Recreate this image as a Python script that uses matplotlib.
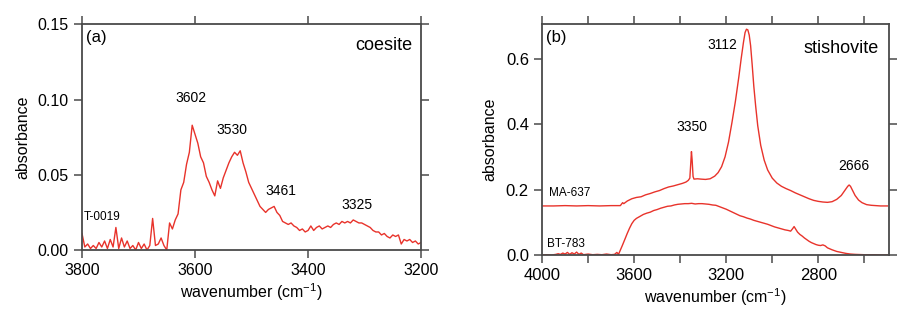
import matplotlib
matplotlib.use("Agg")
import matplotlib.pyplot as plt
import numpy as np
from matplotlib.ticker import MultipleLocator

plt.rcParams["font.family"] = ["Liberation Sans", "DejaVu Sans"]
plt.rcParams["mathtext.fontset"] = "custom"
plt.rcParams["mathtext.rm"] = "Liberation Sans"
plt.rcParams["mathtext.default"] = "regular"

RED = "#e8332b"
FRAME = "#4a4a4a"

# ---- panel (a): coesite, T-0019 (5 cm-1 steps, 3800 -> 3200)
abs_a = [
    0.011, 0.002, 0.004, 0.001, 0.003, 0.001, 0.005, 0.002, 0.006, 0.001,
    0.007, 0.002, 0.015, 0.001, 0.008, 0.002, 0.006, 0.001, 0.003, 0.000,
    0.005, 0.001, 0.004, 0.000, 0.003, 0.021, 0.003, 0.004, 0.008, 0.003,
    0.000, 0.018, 0.014, 0.020, 0.024, 0.040, 0.045, 0.057, 0.065, 0.083,
    0.077, 0.071, 0.062, 0.058, 0.049, 0.045, 0.040, 0.036, 0.046, 0.041,
    0.048, 0.053, 0.058, 0.062, 0.065, 0.063, 0.066, 0.058, 0.052, 0.045,
    0.041, 0.037, 0.033, 0.029, 0.027, 0.025, 0.027, 0.028, 0.029, 0.025,
    0.023, 0.019, 0.018, 0.017, 0.018, 0.016, 0.015, 0.013, 0.014, 0.012,
    0.013, 0.016, 0.013, 0.015, 0.016, 0.014, 0.015, 0.016, 0.015, 0.017,
    0.018, 0.017, 0.019, 0.018, 0.019, 0.018, 0.020, 0.019, 0.018, 0.018,
    0.017, 0.016, 0.015, 0.013, 0.012, 0.012, 0.010, 0.011, 0.009, 0.008,
    0.010, 0.009, 0.010, 0.004, 0.007, 0.006, 0.007, 0.005, 0.006, 0.004,
    0.005,
]
wn_a = np.linspace(3800, 3200, len(abs_a))

peaks_a = [3602, 3530, 3461, 3325]
peak_lbl_a = [(3608, 0.101), (3535, 0.080), (3448, 0.039), (3314, 0.030)]

# ---- panel (b): stishovite, MA-637 (offset) and BT-783
wn_ma = [
    4000, 3950, 3900, 3850, 3800, 3750, 3700, 3660, 3650, 3645, 3630, 3610,
    3590, 3570, 3550, 3530, 3510, 3490, 3470, 3450, 3430, 3410, 3390, 3375,
    3365, 3358, 3354, 3351, 3348, 3344, 3340, 3325, 3310, 3290, 3270, 3250,
    3235, 3220, 3205, 3190, 3175, 3160, 3145, 3135, 3125, 3118, 3112, 3106,
    3100, 3094, 3087, 3080, 3072, 3063, 3050, 3035, 3020, 3000, 2980, 2960,
    2940, 2920, 2900, 2880, 2860, 2840, 2820, 2800, 2780, 2760, 2740, 2720,
    2700, 2685, 2672, 2666, 2660, 2650, 2640, 2625, 2610, 2590, 2570, 2550,
    2530, 2500,
]
abs_ma = [
    0.150, 0.150, 0.151, 0.150, 0.151, 0.150, 0.151, 0.151, 0.160, 0.157, 0.165, 0.172,
    0.176, 0.178, 0.184, 0.188, 0.193, 0.197, 0.203, 0.208, 0.211, 0.215, 0.219, 0.223,
    0.228, 0.235, 0.280, 0.316, 0.290, 0.240, 0.232, 0.233, 0.232, 0.231, 0.233, 0.241,
    0.252, 0.270, 0.300, 0.345, 0.405, 0.470, 0.545, 0.600, 0.650, 0.680, 0.690, 0.688,
    0.672, 0.640, 0.580, 0.515, 0.455, 0.395, 0.335, 0.290, 0.260, 0.235, 0.220, 0.210,
    0.203, 0.197, 0.190, 0.184, 0.178, 0.172, 0.167, 0.164, 0.162, 0.161, 0.163, 0.170,
    0.182, 0.197, 0.210, 0.214, 0.210, 0.196, 0.182, 0.168, 0.160, 0.154, 0.152, 0.151,
    0.150, 0.150,
]

wn_bt = [
    4000, 3980, 3960, 3940, 3930, 3920, 3910, 3900, 3890, 3880, 3870, 3860,
    3850, 3840, 3830, 3820, 3800, 3780, 3760, 3740, 3720, 3700, 3685, 3675,
    3668, 3660, 3652, 3645, 3638, 3630, 3620, 3610, 3600, 3590, 3575, 3560,
    3545, 3530, 3515, 3500, 3485, 3470, 3455, 3440, 3425, 3410, 3395, 3380,
    3365, 3350, 3335, 3320, 3305, 3290, 3275, 3260, 3245, 3230, 3215, 3200,
    3185, 3170, 3155, 3140, 3125, 3110, 3095, 3080, 3065, 3050, 3035, 3020,
    3005, 2990, 2975, 2960, 2945, 2930, 2920, 2912, 2905, 2898, 2890, 2880,
    2870, 2860, 2850, 2840, 2830, 2820, 2810, 2800, 2790, 2780, 2770, 2760,
    2740, 2720, 2700, 2680, 2660, 2640, 2600, 2560, 2520, 2500,
]
abs_bt = [
    0.000, 0.001, 0.000, 0.002, 0.004, 0.002, 0.006, 0.003, 0.008, 0.002, 0.007, 0.003,
    0.009, 0.002, 0.006, 0.001, 0.003, 0.001, 0.002, 0.001, 0.003, 0.001, 0.002, 0.008,
    0.002, 0.015, 0.028, 0.040, 0.052, 0.066, 0.082, 0.096, 0.106, 0.112, 0.118, 0.124,
    0.128, 0.131, 0.136, 0.139, 0.143, 0.146, 0.149, 0.150, 0.153, 0.155, 0.156, 0.157,
    0.157, 0.158, 0.156, 0.157, 0.157, 0.156, 0.155, 0.153, 0.152, 0.148, 0.144, 0.140,
    0.135, 0.130, 0.125, 0.120, 0.117, 0.113, 0.110, 0.106, 0.103, 0.100, 0.097, 0.094,
    0.090, 0.086, 0.083, 0.080, 0.077, 0.075, 0.073, 0.080, 0.087, 0.079, 0.070, 0.063,
    0.058, 0.052, 0.047, 0.042, 0.038, 0.035, 0.032, 0.030, 0.029, 0.031, 0.028, 0.022,
    0.016, 0.011, 0.008, 0.005, 0.003, 0.002, 0.001, 0.001, 0.000, 0.000,
]

peaks_b = [3350, 3112, 2666]
peak_lbl_b = [(3350, 0.392), (3217, 0.641), (2645, 0.272)]


def style_axes(ax, tick_size):
    for s in ax.spines.values():
        s.set_color(FRAME)
        s.set_linewidth(1.3)
    ax.tick_params(which="both", direction="out", length=6, width=1.1,
                   color=FRAME, top=True, right=True,
                   labeltop=False, labelright=False, labelsize=tick_size)


fig = plt.figure(figsize=(9.08, 3.18), dpi=100)

# ---- (a)
ax = fig.add_axes([0.0903, 0.2138, 0.3734, 0.7092])
ax.plot(wn_a, abs_a, color=RED, lw=1.0)
ax.set_xlim(3800, 3200)
ax.set_ylim(0, 0.15)
ax.xaxis.set_major_locator(MultipleLocator(200))
ax.yaxis.set_major_locator(MultipleLocator(0.05))
ax.yaxis.set_major_formatter(plt.FormatStrFormatter("%.2f"))
style_axes(ax, 11.5)
ax.set_xlabel("wavenumber (cm$^{-1}$)", fontsize=11.5, labelpad=2)
ax.set_ylabel("absorbance", fontsize=11.5, labelpad=5)
ax.text(0.012, 0.975, "(a)", transform=ax.transAxes, fontsize=12, va="top")
ax.text(0.975, 0.945, "coesite", transform=ax.transAxes, fontsize=13,
        va="top", ha="right")
for p, (x, y) in zip(peaks_a, peak_lbl_a):
    ax.text(x, y, str(p), fontsize=10, ha="center", va="center")
ax.text(3764, 0.0217, "T-0019", fontsize=8.5, ha="center", va="center")

# ---- (b)
bx = fig.add_axes([0.597, 0.198, 0.382, 0.7256])
bx.plot(wn_ma, abs_ma, color=RED, lw=1.0)
bx.plot(wn_bt, abs_bt, color=RED, lw=1.0)
bx.set_xlim(4000, 2493)
bx.set_ylim(0, 0.705)
bx.xaxis.set_major_locator(MultipleLocator(400))
bx.xaxis.set_minor_locator(MultipleLocator(200))
bx.yaxis.set_major_locator(MultipleLocator(0.2))
bx.yaxis.set_major_formatter(plt.FormatStrFormatter("%.1f"))
style_axes(bx, 12)
bx.tick_params(which="minor", left=False, right=False)
bx.set_xlabel("wavenumber (cm$^{-1}$)", fontsize=11.5, labelpad=2)
bx.set_ylabel("absorbance", fontsize=11.5, labelpad=6)
bx.text(0.012, 0.975, "(b)", transform=bx.transAxes, fontsize=12, va="top")
bx.text(0.97, 0.93, "stishovite", transform=bx.transAxes, fontsize=13,
        va="top", ha="right")
for p, (x, y) in zip(peaks_b, peak_lbl_b):
    bx.text(x, y, str(p), fontsize=10, ha="center", va="center")
bx.text(3881, 0.191, "MA-637", fontsize=8.5, ha="center", va="center")
bx.text(3896, 0.033, "BT-783", fontsize=8.5, ha="center", va="center")

fig.savefig("out.png", dpi=100)
